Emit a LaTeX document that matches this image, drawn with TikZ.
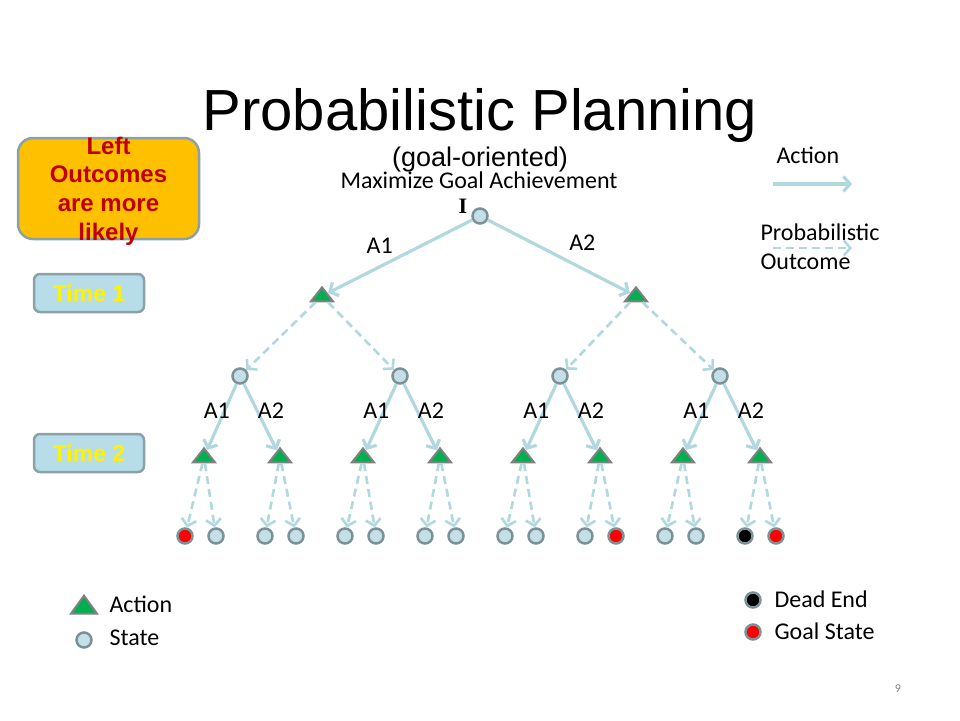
\documentclass[tikz,border=0pt]{standalone}
\usepackage{fontspec}
\setmainfont{Carlito}
\newfontfamily\arialfont{Liberation Sans}
\newfontfamily\romanfont{Liberation Serif}
\usetikzlibrary{arrows.meta,shapes.geometric}
\definecolor{arrowblue}{RGB}{176,216,222}
\definecolor{statefill}{RGB}{196,224,230}
\definecolor{stategray}{RGB}{122,146,152}
\definecolor{actgreen}{RGB}{0,176,80}
\definecolor{actgray}{RGB}{128,128,128}
\definecolor{hintorange}{RGB}{255,192,0}
\definecolor{hintred}{RGB}{192,0,0}
\definecolor{boxgray}{RGB}{140,160,166}
\definecolor{timefill}{RGB}{183,222,232}
\begin{document}
\begin{tikzpicture}[x=1pt,y=-1pt,font=\fontsize{24}{29}\selectfont,
	state/.style={circle,draw=stategray,fill=statefill,line width=2.5pt,minimum size=15pt,inner sep=0pt},
	goal/.style={state,fill=red},
	dead/.style={state,fill=black},
	act/.style={isosceles triangle,isosceles triangle stretches,shape border rotate=90,draw=actgray,fill=actgreen,line width=2pt,minimum width=22pt,minimum height=14pt,inner sep=0pt},
	choose/.style={draw=arrowblue,line width=3.2pt,-{Straight Barb[length=6.5pt,width=15pt]}},
	outcome/.style={choose,line width=2.6pt,dash pattern=on 8pt off 5pt},
	lab/.style={inner sep=1pt},
	timebox/.style={rounded corners=6pt,draw=boxgray,line width=2.5pt,fill=timefill,minimum width=110pt,minimum height=38pt,text=yellow,font=\arialfont\bfseries\fontsize{23}{26}\selectfont}]
	\useasboundingbox (0,0) rectangle (960,720);
	\node[anchor=base,font=\arialfont\fontsize{58}{60}\selectfont] (title) at (480,130) {Probabilistic Planning};
	\node[anchor=base,font=\arialfont\fontsize{27}{30}\selectfont] (sub) at (480,166) {(goal-oriented)};
	\node[anchor=base] (aim) at (479,188) {Maximize Goal Achievement};
	% hint and time boxes
	\node[rounded corners=15pt,draw=boxgray,line width=2.5pt,fill=hintorange,minimum width=181pt,minimum height=101pt] (hint) at (108.5,188.5) {};
	\node[anchor=north,align=center,inner sep=0pt,text=hintred,font=\arialfont\bfseries\fontsize{24}{28.7}\selectfont] (hinttext) at (108.5,136.5) {Left\\Outcomes\\are more\\likely};
	\node[timebox] (time1) at (89,293) {Time 1};
	\node[timebox] (time2) at (89,453) {Time 2};
	% tree
	\node[state] (root) at (480,216) {};
	\node[anchor=base,font=\romanfont\bfseries\fontsize{22}{22}\selectfont] (init) at (463,213) {I};
	\node[act] (a1) at (322,296) {};
	\node[act] (a2) at (636,296) {};
	\draw[choose] (root) -- node[lab,pos=0.52,above left=2pt]{A1} (a1);
	\draw[choose] (root) -- node[lab,pos=0.52,above right=5pt]{A2} (a2);
	\foreach \x [count=\i] in {240,400,560,720}
		\node[state] (s\i) at (\x,376) {};
	\foreach \x [count=\i] in {204,280,363,440,523,600,683,760}
		\node[act] (t\i) at (\x,457) {};
	\foreach \x/\k [count=\i] in {185/goal,216/state,265/state,296/state,345/state,376/state,425/state,456/state,505/state,536/state,585/state,616/goal,665/state,696/state,745/dead,776/goal}
		\node[\k] (l\i) at (\x,536) {};
	\foreach \i [evaluate=\i as \l using int(2*\i-1),evaluate=\i as \r using int(2*\i)] in {1,2} {
		\draw[outcome] (a\i) -- (s\l);
		\draw[outcome] (a\i) -- (s\r);
	}
	\foreach \i [evaluate=\i as \l using int(2*\i-1),evaluate=\i as \r using int(2*\i)] in {1,...,4} {
		\draw[choose] (s\i) -- node[lab,pos=0.41,left=-8pt]{A1} (t\l);
		\draw[choose] (s\i) -- node[lab,pos=0.41,right=-2pt]{A2} (t\r);
	}
	\foreach \i [evaluate=\i as \l using int(2*\i-1),evaluate=\i as \r using int(2*\i)] in {1,...,8} {
		\draw[outcome] (t\i) -- (l\l);
		\draw[outcome] (t\i) -- (l\r);
	}
	% legend
	\node[anchor=base west] (keyact) at (773,163) {Action};
	\coordinate (ka1) at (773,184);
	\coordinate (ka2) at (852,184);
	\draw[choose] (ka1) -- (ka2);
	\node[anchor=base west,align=left] (keyout) at (757,269) {Probabilistic\\Outcome};
	\coordinate (ko1) at (773,248);
	\coordinate (ko2) at (852,248);
	\draw[outcome] (ko1) -- (ko2);
	\node[act,minimum width=26pt,minimum height=18pt] (kact) at (84,607) {};
	\node[anchor=base west] at (106,612) {Action};
	\node[state] (kstate) at (84,640) {};
	\node[anchor=base west] at (106,645) {State};
	\node[dead] (kdead) at (753,600) {};
	\node[anchor=base west] at (771,607) {Dead End};
	\node[goal] (kgoal) at (753,632) {};
	\node[anchor=base west] at (771,639) {Goal State};
	\node[anchor=base,text=gray,font=\fontsize{12}{12}\selectfont] (page) at (898,692) {9};
\end{tikzpicture}
\end{document}
